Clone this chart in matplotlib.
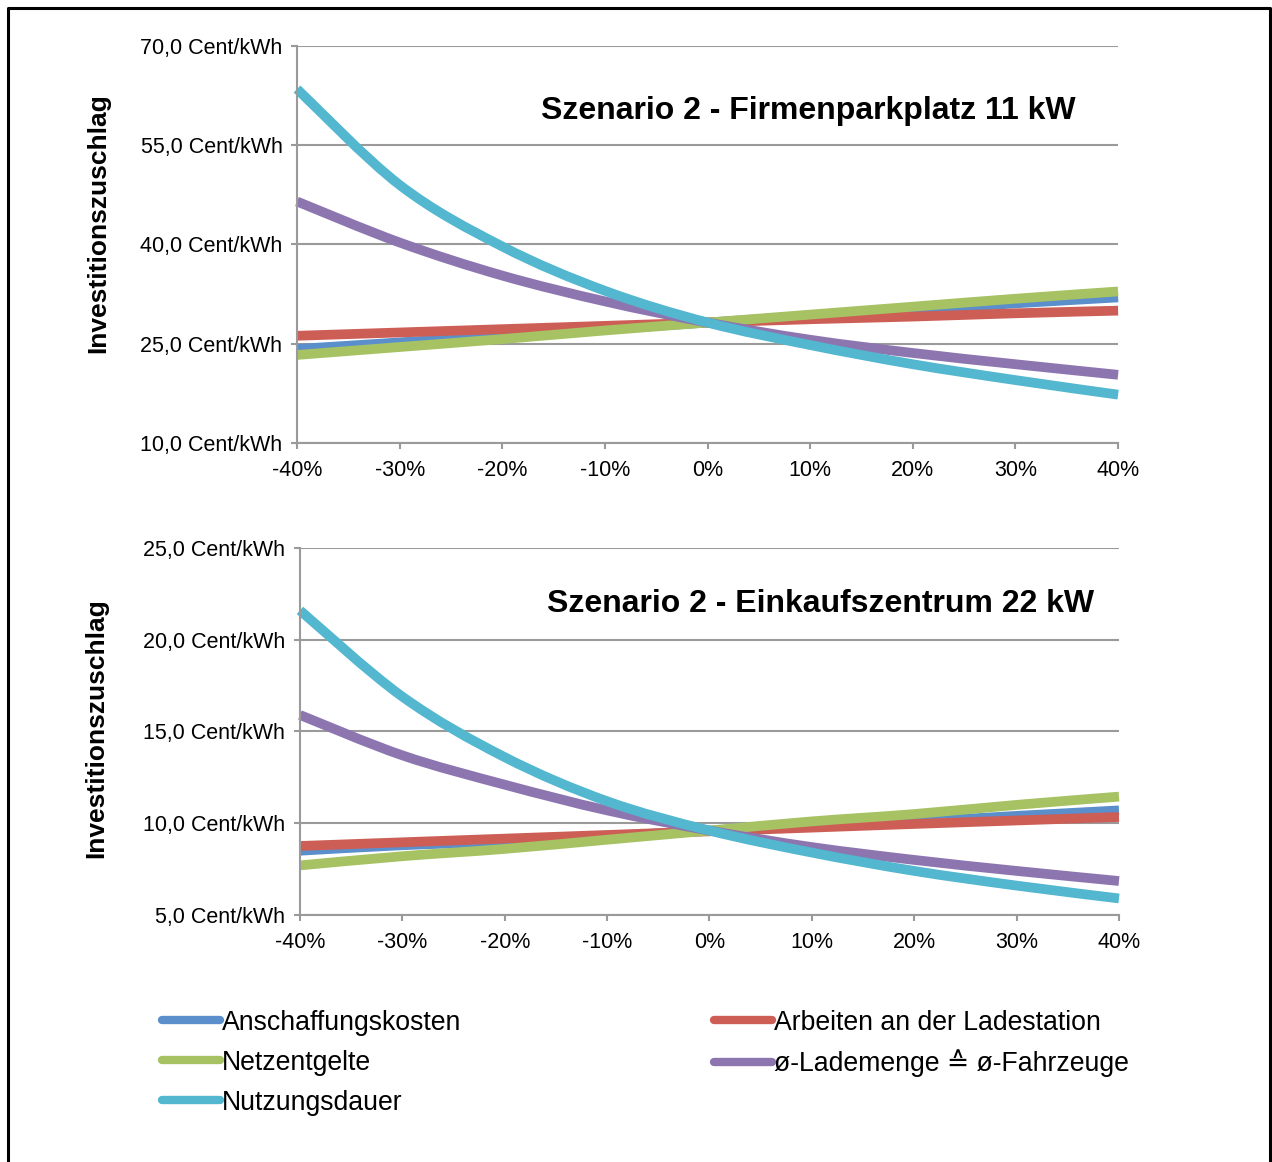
import matplotlib
matplotlib.use('Agg')
import matplotlib.pyplot as plt
from matplotlib.lines import Line2D
from matplotlib.path import Path
from matplotlib.patches import PathPatch
from matplotlib.ticker import FuncFormatter

plt.rcParams['font.family'] = ['Liberation Sans', 'DejaVu Sans']

# x axis: change of the parameter in percent
changes = [-40, -30, -20, -10, 0, 10, 20, 30, 40]

series_names = ["Anschaffungskosten", "Arbeiten an der Ladestation", "Netzentgelte",
                "ø-Lademenge ≙ ø-Fahrzeuge", "Nutzungsdauer"]
colors = ["#5A8FCB", "#CD5E56", "#A6C263", "#8D75B0", "#52B7CF"]

# Szenario 2 - Firmenparkplatz 11 kW (Cent/kWh)
firma_anschaffung = [24.2, 25.2, 26.2, 27.2, 28.2, 29.2, 30.1, 31.1, 32.0]
firma_arbeiten = [26.2, 26.7, 27.2, 27.7, 28.2, 28.7, 29.1, 29.6, 30.0]
firma_netz = [23.3, 24.5, 25.7, 27.0, 28.2, 29.4, 30.6, 31.8, 32.9]
firma_lademenge = [46.5, 40.3, 35.3, 31.4, 28.2, 25.6, 23.6, 21.9, 20.3]
firma_nutzung = [63.5, 49.0, 39.7, 33.0, 28.2, 24.8, 21.9, 19.5, 17.3]

# Szenario 2 - Einkaufszentrum 22 kW (Cent/kWh)
ekz_anschaffung = [8.5, 8.8, 9.0, 9.3, 9.6, 9.9, 10.1, 10.4, 10.7]
ekz_arbeiten = [8.76, 8.96, 9.16, 9.36, 9.56, 9.76, 9.96, 10.15, 10.34]
ekz_netz = [7.7, 8.2, 8.6, 9.1, 9.6, 10.1, 10.5, 11.0, 11.45]
ekz_lademenge = [15.9, 13.7, 12.1, 10.7, 9.6, 8.7, 8.0, 7.4, 6.85]
ekz_nutzung = [21.6, 16.9, 13.6, 11.2, 9.6, 8.4, 7.4, 6.6, 5.9]

firma = [firma_anschaffung, firma_arbeiten, firma_netz, firma_lademenge, firma_nutzung]
ekz = [ekz_anschaffung, ekz_arbeiten, ekz_netz, ekz_lademenge, ekz_nutzung]

grid_col = "#9A9A9A"


def smooth_path(x, y):
    # Excel-like smoothed line: bezier segments through the data points
    n = len(x)
    verts = [(x[0], y[0])]
    codes = [Path.MOVETO]
    for i in range(n - 1):
        a = max(i - 1, 0)
        b = min(i + 2, n - 1)
        c1 = (x[i] + (x[i + 1] - x[a]) / 6.0, y[i] + (y[i + 1] - y[a]) / 6.0)
        c2 = (x[i + 1] - (x[b] - x[i]) / 6.0, y[i + 1] - (y[b] - y[i]) / 6.0)
        verts += [c1, c2, (x[i + 1], y[i + 1])]
        codes += [Path.CURVE4] * 3
    return Path(verts, codes)


def style_axis(ax, yticks):
    ax.set_xlim(-40, 40)
    ax.set_ylim(yticks[0], yticks[-1])
    ax.set_xticks(changes)
    ax.set_yticks(yticks)
    ax.xaxis.set_major_formatter(FuncFormatter(lambda v, p: "%d%%" % round(v)))
    ax.yaxis.set_major_formatter(FuncFormatter(lambda v, p: ("%.1f Cent/kWh" % v).replace(".", ",")))
    ax.grid(axis="y", color=grid_col, linewidth=1.5)
    ax.set_axisbelow(True)
    for s in ["top", "right"]:
        ax.spines[s].set_visible(False)
    for s in ["left", "bottom"]:
        ax.spines[s].set_color(grid_col)
        ax.spines[s].set_linewidth(1.5)
    ax.tick_params(axis="both", colors=grid_col, width=1.5, length=4.5, labelcolor="black",
                   labelsize=15.5)
    ax.tick_params(axis="x", pad=8)
    ax.tick_params(axis="y", pad=6)


fig = plt.figure(figsize=(12.72, 11.62), dpi=100)

ax1 = fig.add_axes([0.2335, 0.6188, 0.879 - 0.2335, 0.9604 - 0.6188])
ax2 = fig.add_axes([0.2358, 0.2126, 0.8797 - 0.2358, 0.5284 - 0.2126])

for ax, data in ((ax1, firma), (ax2, ekz)):
    for vals, col in zip(data, colors):
        ax.add_patch(PathPatch(smooth_path(changes, vals), fill=False, edgecolor=col,
                               linewidth=7, capstyle="butt", joinstyle="round", clip_on=False))

style_axis(ax1, [10, 25, 40, 55, 70])
style_axis(ax2, [5, 10, 15, 20, 25])

fig.text(0.6356, 0.9045, "Szenario 2 - Firmenparkplatz 11 kW", ha="center", va="center",
         fontsize=23, fontweight="bold")
fig.text(0.645, 0.4802, "Szenario 2 - Einkaufszentrum 22 kW", ha="center", va="center",
         fontsize=23, fontweight="bold")

fig.text(0.077, 0.808, "Investitionszuschlag", rotation=90, ha="center", va="center",
         fontsize=19, fontweight="bold")
fig.text(0.0755, 0.3735, "Investitionszuschlag", rotation=90, ha="center", va="center",
         fontsize=19, fontweight="bold")

# legend in two separate columns
handles = [Line2D([], [], color=col, linewidth=6, solid_capstyle="round", label=name)
           for name, col in zip(series_names, colors)]
leg_kw = dict(frameon=False, fontsize=19.2, handlelength=2.2, handletextpad=0.05,
              labelspacing=0.52, borderaxespad=0, borderpad=0, loc="upper left")
col1 = [handles[0], handles[2], handles[4]]
col2 = [handles[1], handles[3]]
fig.legend(col1, [h.get_label() for h in col1], bbox_to_anchor=(0.127, 0.131), **leg_kw)
fig.legend(col2, [h.get_label() for h in col2], bbox_to_anchor=(0.561, 0.131), **leg_kw)

# frame around the figure (no bottom edge visible)
x0, x1 = 8 / 1272, 1270 / 1272
ytop = 1 - 8 / 1162
fig.add_artist(Line2D([x0, x0, x1, x1], [0, ytop, ytop, 0], color="black", linewidth=2.2,
                      transform=fig.transFigure))

fig.savefig("out.png", dpi=100)
